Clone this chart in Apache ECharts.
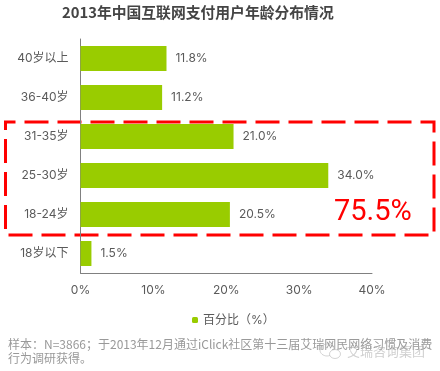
<!DOCTYPE html>
<html>
<head>
<meta charset="utf-8">
<style>
html, body { margin: 0; padding: 0; background: #fff; }
#chart { width: 440px; height: 371px; }
</style>
<script src="https://cdn.jsdelivr.net/npm/echarts@6/dist/echarts.min.js"></script>
</head>
<body>
<div id="chart"></div>
<script>
var categories = ['18岁以下', '18-24岁', '25-30岁', '31-35岁', '36-40岁', '40岁以上'];
var shares = [1.5, 20.5, 34.0, 21.0, 11.2, 11.8];
var seriesName = '百分比（%）';
var titleText = '2013年中国互联网支付用户年龄分布情况';
var highlightText = '75.5%';
var noteLines = ['样本：N=3866；于2013年12月通过iClick社区第十三届艾瑞网民网络习惯及消费', '行为调研获得。'];
var watermarkText = '艾瑞咨询集团';

var labelFont = 'Inter, "Noto Sans CJK SC", sans-serif';
var chart = echarts.init(document.getElementById('chart'), null, { renderer: 'canvas' });

var option = {
    backgroundColor: '#fff',
    animation: false,
    title: {
        text: titleText,
        left: 62,
        top: 5,
        padding: 0,
        textStyle: {
            fontFamily: '"Noto Sans CJK SC", sans-serif',
            fontSize: 14.8,
            fontWeight: 'bold',
            color: '#444'
        }
    },
    grid: {
        left: 80.5,
        right: 68,
        top: 39,
        bottom: 98
    },
    legend: {
        data: [seriesName],
        left: 187,
        top: 309,
        itemWidth: 6,
        itemHeight: 6,
        itemGap: 4,
        textStyle: {
            fontFamily: labelFont,
            fontSize: 12,
            color: '#5a5a5a'
        }
    },
    xAxis: {
        type: 'value',
        min: 0,
        max: 40,
        interval: 10,
        axisLine: { show: true, lineStyle: { color: '#808080', width: 1 } },
        axisTick: { show: false },
        splitLine: { show: false },
        axisLabel: {
            formatter: '{value}%',
            margin: 11,
            fontFamily: labelFont,
            fontSize: 12,
            color: '#5a5a5a'
        }
    },
    yAxis: {
        type: 'category',
        data: categories,
        axisLine: { show: true, lineStyle: { color: '#808080', width: 1 } },
        axisTick: { show: false },
        axisLabel: {
            margin: 12,
            fontFamily: labelFont,
            fontSize: 12,
            color: '#5a5a5a'
        }
    },
    series: [{
        name: seriesName,
        type: 'bar',
        data: shares,
        barWidth: 25,
        itemStyle: { color: '#99cc00' },
        label: {
            show: true,
            position: 'right',
            distance: 9,
            formatter: function (p) { return p.value.toFixed(1) + '%'; },
            fontFamily: labelFont,
            fontSize: 12,
            color: '#5a5a5a'
        }
    }],
    graphic: [
        {
            type: 'rect',
            shape: { x: 5.5, y: 122, width: 428.5, height: 113 },
            style: { fill: null, stroke: '#ff0000', lineWidth: 3, lineDash: [24, 9], lineDashOffset: 14 }
        },
        {
            type: 'text',
            left: 334,
            top: 198,
            style: {
                text: highlightText,
                fontFamily: 'Roboto, sans-serif',
                fontSize: 29,
                fill: '#ff0000'
            }
        },
        {
            type: 'text',
            left: 8,
            top: 337,
            style: {
                text: noteLines.join('\n'),
                fontFamily: '"Noto Sans CJK SC", sans-serif',
                fontSize: 12,
                lineHeight: 14,
                fill: '#999'
            }
        },
        // 水印
        {
            type: 'ellipse',
            shape: { cx: 327, cy: 350, rx: 7, ry: 6 },
            style: { fill: null, stroke: 'rgba(170,170,170,0.5)', lineWidth: 1 }
        },
        {
            type: 'ellipse',
            shape: { cx: 335, cy: 354, rx: 5.5, ry: 4.5 },
            style: { fill: '#fff', stroke: 'rgba(170,170,170,0.5)', lineWidth: 1 }
        },
        {
            type: 'text',
            left: 347,
            top: 345,
            style: {
                text: watermarkText,
                fontFamily: '"Noto Sans CJK SC", sans-serif',
                fontSize: 13,
                fill: 'rgba(170,170,170,0.55)'
            }
        }
    ]
};
chart.setOption(option);
</script>
</body>
</html>
